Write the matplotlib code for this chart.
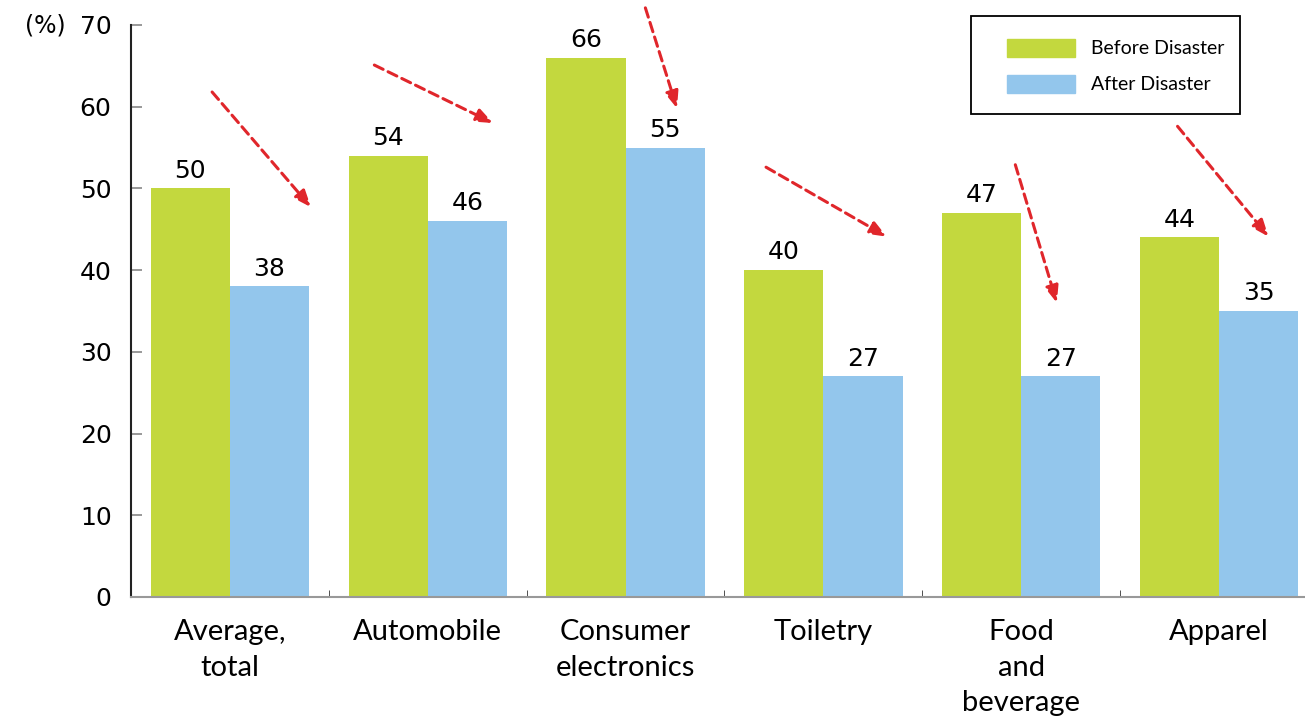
import numpy as np
import matplotlib.pyplot as plt
from matplotlib.patches import Rectangle

# data
categories = ["Average,\ntotal", "Automobile", "Consumer\nelectronics",
              "Toiletry", "Food\nand\nbeverage", "Apparel"]
before = [50, 54, 66, 40, 47, 44]
after = [38, 46, 55, 27, 27, 35]
yticks = [0, 10, 20, 30, 40, 50, 60, 70]
series_names = ["Before Disaster", "After Disaster"]

# arrow annotations (start, end) in data coords
arrows = [((-0.09, 61.8), (0.41, 47.7)),
          ((0.73, 65.1), (1.33, 58.0)),
          ((2.10, 72.1), (2.26, 59.8)),
          ((2.71, 52.6), (3.32, 44.1)),
          ((3.97, 52.9), (4.18, 36.0)),
          ((4.79, 57.6), (5.25, 44.1))]

green = "#c3d83e"
blue = "#93c6ec"
red = "#e0262b"
W, H = 1305, 719

fig = plt.figure(figsize=(13.05, 7.19), dpi=100)
ax = fig.add_axes([131 / W, 1 - 597 / H, 1187 / W, 572 / H])

x = np.arange(len(categories))
w = 0.4
ax.bar(x - w / 2, before, w, color=green)
ax.bar(x + w / 2, after, w, color=blue)

for xi, b, a in zip(x, before, after):
    ax.text(xi - w / 2, b + 0.7, str(b), ha="center", va="bottom",
            fontsize=18, family="DejaVu Sans")
    ax.text(xi + w / 2, a + 0.7, str(a), ha="center", va="bottom",
            fontsize=18, family="DejaVu Sans")

for (x0, y0), (x1, y1) in arrows:
    ax.annotate("", xy=(x1, y1), xytext=(x0, y0), annotation_clip=False,
                arrowprops=dict(arrowstyle="-|>,head_length=1.0,head_width=0.4",
                                color=red, lw=2.2, linestyle=(0, (3.2, 1.8)),
                                shrinkA=0, shrinkB=0))

ax.set_xlim(-0.5, 5.5)
ax.set_ylim(0, 70)
ax.set_yticks(yticks)
ax.set_yticklabels([str(t) for t in yticks], fontsize=18, family="DejaVu Sans")
ax.tick_params(axis="y", direction="in", length=8, width=1.2, color="#888888", pad=14)

ax.set_xticks(x)
ax.set_xticklabels(categories, fontsize=21, family="Lato", linespacing=1.45, va="top")
ax.tick_params(axis="x", length=0, pad=16)
ax.set_xticks(x[:-1] + 0.5, minor=True)
ax.tick_params(axis="x", which="minor", direction="in", length=5, color="#333333")

for s in ["top", "right"]:
    ax.spines[s].set_visible(False)
ax.spines["left"].set_color("#222222")
ax.spines["left"].set_linewidth(1.5)
ax.spines["bottom"].set_color("#999999")
ax.spines["bottom"].set_linewidth(1.5)

fig.text(66 / W, 1 - 25 / H, "(%)", ha="right", va="center", fontsize=17,
         family="DejaVu Sans")

# legend box drawn by hand to match the reference spacing
fig.patches.append(Rectangle((971 / W, 1 - 114 / H), 269 / W, 98 / H,
                             transform=fig.transFigure, facecolor="white",
                             edgecolor="black", lw=1.3))
for i, (name, col) in enumerate(zip(series_names, [green, blue])):
    yc = 48 + i * 36
    fig.patches.append(Rectangle((1007 / W, 1 - (yc + 9) / H), 68 / W, 18 / H,
                                 transform=fig.transFigure, color=col))
    fig.text(1091 / W, 1 - yc / H, name, ha="left", va="center",
             fontsize=14, family="Lato")

fig.savefig("out.png", dpi=100)
